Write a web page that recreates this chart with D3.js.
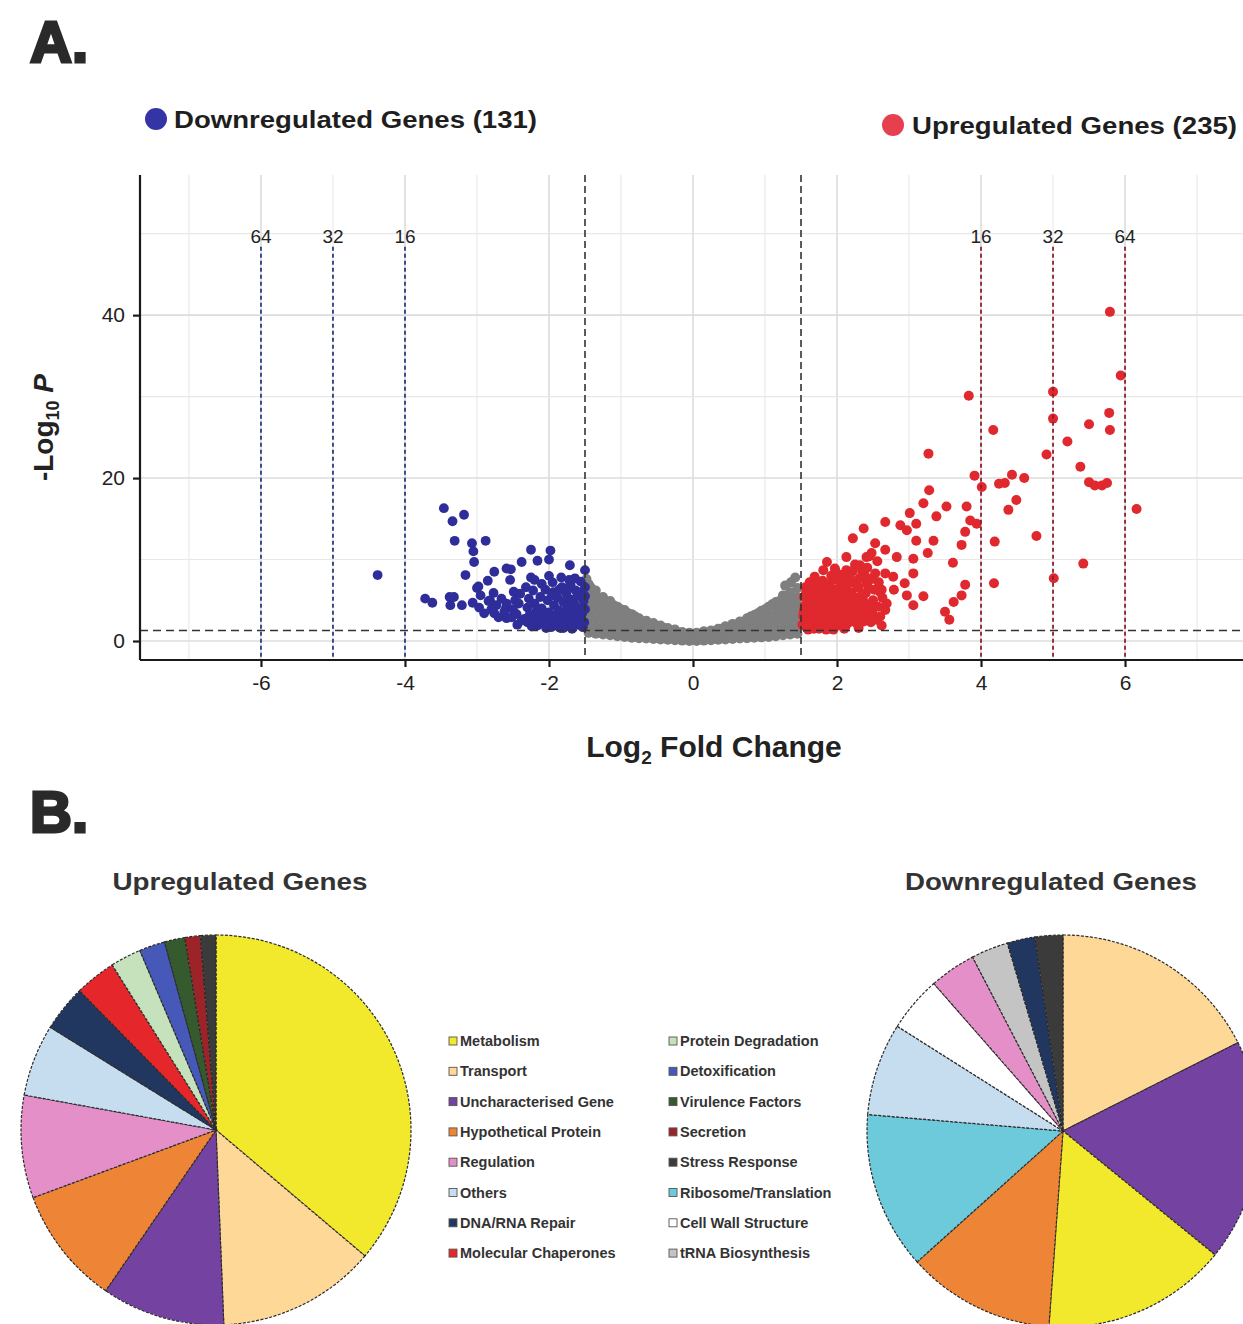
<!DOCTYPE html>
<html>
<head>
<meta charset="utf-8">
<script src="https://cdn.jsdelivr.net/npm/d3@7"></script>
<style>
  body { margin: 0; background: #fff; }
  svg { display: block; }
</style>
</head>
<body>
<svg id="fig" width="1243" height="1324"></svg>
<script>
// ---------------- data ----------------
const xTicks = [-6, -4, -2, 0, 2, 4, 6];
const yTicks = [0, 20, 40];
const gridX = [-7, -6, -5, -4, -3, -2, -1, 0, 1, 2, 3, 4, 5, 6, 7];
const gridY = [0, 10, 20, 30, 40, 50];
const foldCutoffs = [-6, -5, -4, 4, 5, 6];
const foldCutoffLabels = ["64", "32", "16", "16", "32", "64"];
const lfcThreshold = 1.5;
const pThreshold = 1.3;
const downCount = 131;
const upCount = 235;

// significant, down-regulated genes [log2FC, -log10 P]
const downPoints = [
  [-4.38, 8.1], [-3.46, 16.3], [-3.34, 14.7], [-3.18, 15.5], [-3.31, 12.3], [-3.07, 12.0],
  [-2.88, 12.3], [-3.05, 11.0], [-3.04, 9.7], [-3.16, 8.1], [-3.0, 6.5], [-3.72, 5.2],
  [-3.62, 4.7], [-3.37, 4.4], [-3.32, 5.4], [-3.21, 4.4], [-3.06, 4.7], [-2.85, 7.4],
  [-2.76, 8.5], [-2.77, 5.9], [-2.73, 4.4], [-2.76, 3.4], [-2.6, 4.0], [-2.59, 2.8],
  [-2.53, 8.8], [-2.54, 7.5], [-2.49, 6.05], [-2.47, 5.0], [-2.38, 9.7], [-2.25, 11.2],
  [-2.16, 9.85], [-2.25, 7.8], [-2.2, 7.5], [-2.34, 2.7], [-1.98, 11.1], [-2.0, 10.0],
  [-2.0, 8.0], [-1.83, 7.8], [-1.71, 9.3], [-1.5, 8.7], [-1.72, 7.5], [-2.98, 6.7],
  [-2.82, 5.0], [-2.59, 4.6], [-2.59, 8.9], [-3.38, 5.4],
  [-2.32, 6.6], [-2.28, 5.2], [-2.3, 4.1], [-2.27, 3.2], [-2.3, 2.3], [-2.22, 6.2],
  [-2.2, 4.6], [-2.18, 3.6], [-2.2, 2.8], [-2.16, 1.9], [-2.12, 5.4], [-2.1, 7.0],
  [-2.1, 4.0], [-2.08, 3.0], [-2.06, 2.2], [-2.05, 6.3], [-2.02, 5.0], [-2.0, 3.5],
  [-1.98, 2.6], [-1.97, 1.7], [-1.95, 7.2], [-1.94, 6.0], [-1.93, 4.4], [-1.92, 3.1],
  [-1.9, 2.2], [-1.88, 5.3], [-1.87, 3.8], [-1.85, 2.7], [-1.84, 1.6], [-1.82, 6.6],
  [-1.8, 4.8], [-1.79, 3.3], [-1.78, 2.3], [-1.76, 5.8], [-1.75, 4.2], [-1.74, 2.9],
  [-1.72, 1.8], [-1.7, 6.9], [-1.69, 5.1], [-1.68, 3.6], [-1.66, 2.5], [-1.65, 4.6],
  [-1.63, 6.2], [-1.62, 3.1], [-1.61, 2.0], [-1.6, 5.5], [-1.58, 4.0], [-1.57, 2.7],
  [-1.56, 7.3], [-1.55, 6.0], [-1.54, 3.4], [-1.53, 1.7], [-1.52, 4.9], [-1.51, 2.3],
  [-1.5, 6.6], [-1.5, 3.9], [-1.5, 5.5], [-2.45, 3.3], [-2.42, 4.6], [-2.4, 5.8],
  [-2.38, 2.5], [-2.62, 3.6], [-2.66, 5.2], [-2.7, 2.9], [-2.8, 3.9], [-2.84, 4.9],
  [-2.9, 3.4], [-2.95, 5.6], [-2.97, 4.1], [-2.52, 2.9], [-2.5, 3.9], [-2.44, 2.0],
  [-1.96, 5.6], [-1.86, 6.3], [-1.74, 6.5], [-1.64, 7.7], [-1.58, 2.0], [-2.14, 2.5],
  [-2.24, 1.8], [-1.9, 1.9], [-1.68, 1.5], [-1.8, 1.6], [-2.04, 1.6]
];

// significant, up-regulated genes [log2FC, -log10 P]
const upPoints = [
  [5.79, 40.4], [5.94, 32.6], [5.0, 30.6], [3.83, 30.1], [5.0, 27.3], [5.78, 28.0],
  [5.79, 25.9], [5.5, 26.6], [5.2, 24.5], [4.17, 25.9], [3.27, 23.0], [4.91, 22.9],
  [5.38, 21.4], [5.5, 19.5], [5.58, 19.1], [5.68, 19.1], [5.75, 19.4], [3.91, 20.3],
  [4.01, 18.9], [4.25, 19.3], [4.33, 19.4], [4.43, 20.4], [4.6, 20.0], [4.49, 17.3],
  [4.38, 16.1], [6.16, 16.2], [3.28, 18.5], [3.2, 16.9], [3.52, 16.5], [3.8, 16.5],
  [3.85, 14.8], [3.94, 14.4], [3.78, 13.4], [3.73, 11.8], [4.77, 12.9], [4.19, 12.2],
  [3.34, 12.3], [3.26, 10.8], [3.61, 9.6], [5.42, 9.5], [5.01, 7.7], [4.18, 7.1],
  [3.78, 6.9], [3.73, 5.6], [3.62, 4.8], [3.5, 3.6], [3.56, 2.6], [3.2, 5.5],
  [3.06, 4.4], [2.97, 5.6], [2.94, 7.1], [3.06, 8.3], [3.06, 10.1], [3.1, 12.3],
  [3.01, 15.7], [3.1, 14.4], [2.88, 14.2], [2.97, 13.6], [2.67, 14.6], [2.37, 13.8],
  [2.22, 12.6], [2.53, 12.0], [2.67, 11.2], [2.83, 10.3], [2.13, 10.3], [2.67, 8.3],
  [2.78, 7.9], [2.62, 6.3], [2.69, 4.6], [3.38, 15.3], [2.79, 6.3], [2.67, 3.8],
  [2.48, 10.8], [2.41, 10.3], [2.32, 9.3], [2.13, 8.7], [1.86, 9.7], [1.69, 7.9],
  [1.97, 8.9], [1.81, 8.7],
  [1.52, 2.0], [1.53, 3.1], [1.55, 4.3], [1.54, 5.4], [1.56, 6.6], [1.58, 1.6],
  [1.58, 2.6], [1.6, 3.7], [1.6, 4.9], [1.62, 7.2], [1.63, 2.1], [1.64, 3.0],
  [1.65, 4.1], [1.66, 5.6], [1.67, 6.3], [1.68, 1.5], [1.69, 2.6], [1.7, 3.6],
  [1.71, 4.7], [1.72, 5.9], [1.7, 7.0], [1.74, 2.2], [1.75, 3.2], [1.76, 4.3],
  [1.77, 5.2], [1.78, 6.6], [1.79, 1.8], [1.8, 2.8], [1.81, 3.9], [1.82, 5.0],
  [1.8, 7.4], [1.83, 6.1], [1.85, 2.3], [1.86, 3.4], [1.87, 4.5], [1.88, 5.6],
  [1.89, 7.0], [1.9, 1.7], [1.91, 2.9], [1.92, 4.0], [1.93, 5.2], [1.92, 8.0],
  [1.94, 6.4], [1.96, 2.4], [1.97, 3.5], [1.98, 4.7], [1.99, 5.8], [2.0, 7.5],
  [2.01, 1.9], [2.02, 3.0], [2.03, 4.2], [2.04, 6.6], [2.05, 5.2], [2.06, 8.1],
  [2.07, 2.5], [2.08, 3.7], [2.09, 4.9], [2.1, 6.1], [2.11, 7.3], [2.12, 1.8],
  [2.13, 3.2], [2.14, 4.4], [2.15, 5.6], [2.15, 8.3], [2.17, 2.3], [2.18, 3.5],
  [2.19, 4.7], [2.2, 6.0], [2.21, 7.2], [2.22, 8.6], [2.23, 2.9], [2.24, 4.1],
  [2.25, 5.3], [2.25, 9.4], [2.27, 2.2], [2.28, 3.4], [2.29, 4.6], [2.3, 6.5],
  [2.31, 7.7], [2.32, 5.4], [2.33, 2.8], [2.34, 3.9], [2.35, 8.6], [2.37, 2.4],
  [2.38, 3.3], [2.39, 4.5], [2.4, 5.9], [2.41, 7.1], [2.42, 9.0], [2.43, 2.9],
  [2.44, 6.5], [2.45, 4.0], [2.47, 2.3], [2.49, 3.4], [2.5, 5.0], [2.52, 6.3],
  [2.53, 8.3], [2.55, 2.6], [2.57, 4.2], [2.58, 7.2], [2.6, 3.0], [2.63, 5.3],
  [2.62, 1.9], [2.56, 9.8], [2.45, 10.4], [1.6, 1.4], [1.75, 1.5], [1.95, 1.4],
  [2.1, 1.5], [2.3, 1.6], [1.85, 1.4], [1.57, 5.9], [1.61, 2.3], [1.66, 3.4],
  [1.73, 4.5], [1.78, 2.5], [1.84, 3.7], [1.88, 4.9], [1.93, 2.0], [1.98, 6.2],
  [2.02, 3.6], [2.06, 5.8], [2.11, 2.7], [2.16, 4.0], [2.2, 5.5], [2.26, 3.1],
  [2.31, 4.3], [2.36, 5.1], [2.41, 2.6], [2.46, 3.8], [1.54, 3.7], [1.69, 4.2],
  [1.81, 5.5], [1.96, 4.1], [2.12, 6.6], [2.28, 6.8], [2.48, 7.6], [2.6, 6.0],
  [2.18, 7.8], [1.72, 6.8], [1.98, 8.6], [2.52, 4.4], [2.39, 8.0]
];

// genes that fail the fold-change cut-off [log2FC, -log10 P]
const nsPoints = [
  [-1.48, 7.6], [-1.42, 6.6],
  [-1.45, 1.0], [-1.45, 1.9], [-1.45, 2.8], [-1.45, 3.7], [-1.45, 4.6], [-1.45, 5.5], [-1.45, 6.3], [-1.45, 7.0],
  [-1.4, 1.4], [-1.4, 3.2], [-1.4, 5.0],
  [-1.35, 0.9], [-1.35, 1.8], [-1.35, 2.7], [-1.35, 3.6], [-1.35, 4.5], [-1.35, 5.4], [-1.35, 6.2],
  [-1.3, 1.3], [-1.3, 3.1], [-1.3, 4.9],
  [-1.25, 0.8], [-1.25, 1.7], [-1.25, 2.6], [-1.25, 3.5], [-1.25, 4.4], [-1.25, 5.4],
  [-1.2, 1.2], [-1.2, 3.0], [-1.2, 4.7],
  [-1.15, 0.7], [-1.15, 1.6], [-1.15, 2.5], [-1.15, 3.4], [-1.15, 4.2], [-1.15, 4.9],
  [-1.1, 1.1], [-1.1, 2.9], [-1.1, 4.4],
  [-1.05, 0.6], [-1.05, 1.5], [-1.05, 2.4], [-1.05, 3.3], [-1.05, 4.2],
  [-1.0, 1.0], [-1.0, 2.8], [-1.0, 3.9],
  [-0.95, 0.5], [-0.95, 1.4], [-0.95, 2.3], [-0.95, 3.1], [-0.95, 3.8],
  [-0.9, 0.9], [-0.9, 2.5], [-0.9, 3.4],
  [-0.85, 0.4], [-0.85, 1.2], [-0.85, 2.0], [-0.85, 2.7], [-0.85, 3.3],
  [-0.8, 0.8], [-0.8, 2.3], [-0.8, 3.0],
  [-0.75, 0.35], [-0.75, 1.1], [-0.75, 1.9], [-0.75, 2.8],
  [-0.7, 0.7], [-0.7, 2.2],
  [-0.65, 0.3], [-0.65, 1.0], [-0.65, 1.7], [-0.65, 2.5],
  [-0.6, 0.6], [-0.6, 2.0],
  [-0.55, 0.25], [-0.55, 0.9], [-0.55, 1.6], [-0.55, 2.2],
  [-0.5, 0.5], [-0.5, 1.8],
  [-0.45, 0.2], [-0.45, 0.8], [-0.45, 1.4], [-0.45, 1.9],
  [-0.4, 0.45], [-0.4, 1.6],
  [-0.35, 0.15], [-0.35, 0.7], [-0.35, 1.3], [-0.35, 1.6],
  [-0.3, 0.4], [-0.3, 1.1],
  [-0.25, 0.1], [-0.25, 0.6], [-0.25, 1.1], [-0.25, 1.4],
  [-0.2, 0.3], [-0.2, 0.9],
  [-0.15, 0.05], [-0.15, 0.6], [-0.15, 1.1],
  [-0.1, 0.3], [-0.1, 0.9],
  [-0.05, 0.0], [-0.05, 0.5], [-0.05, 1.0],
  [0.0, 0.2], [0.0, 0.8],
  [0.05, 0.0], [0.05, 0.5], [0.05, 1.0],
  [0.1, 0.3], [0.1, 0.9],
  [0.15, 0.05], [0.15, 0.6], [0.15, 1.2],
  [0.2, 0.3], [0.2, 0.9],
  [0.25, 0.1], [0.25, 0.6], [0.25, 1.3],
  [0.3, 0.4], [0.3, 1.0],
  [0.35, 0.15], [0.35, 0.7], [0.35, 1.2], [0.35, 1.5],
  [0.4, 0.45], [0.4, 1.5],
  [0.45, 0.2], [0.45, 0.8], [0.45, 1.3], [0.45, 1.8],
  [0.5, 0.5], [0.5, 1.6],
  [0.55, 0.25], [0.55, 0.9], [0.55, 1.5], [0.55, 2.1],
  [0.6, 0.6], [0.6, 1.9],
  [0.65, 0.3], [0.65, 1.0], [0.65, 1.7], [0.65, 2.4],
  [0.7, 0.7], [0.7, 2.2],
  [0.75, 0.35], [0.75, 1.1], [0.75, 1.9], [0.75, 2.8],
  [0.8, 0.8], [0.8, 2.4], [0.8, 3.0],
  [0.85, 0.4], [0.85, 1.2], [0.85, 2.0], [0.85, 2.7], [0.85, 3.2],
  [0.9, 0.9], [0.9, 2.5], [0.9, 3.4],
  [0.95, 0.45], [0.95, 1.3], [0.95, 2.2], [0.95, 3.0], [0.95, 3.7],
  [1.0, 1.0], [1.0, 2.7], [1.0, 3.9],
  [1.05, 0.5], [1.05, 1.4], [1.05, 2.3], [1.05, 3.2], [1.05, 4.2],
  [1.1, 1.1], [1.1, 2.9], [1.1, 4.5],
  [1.15, 0.6], [1.15, 1.5], [1.15, 2.4], [1.15, 3.3], [1.15, 4.1], [1.15, 4.8],
  [1.2, 1.2], [1.2, 3.0], [1.2, 4.9],
  [1.25, 0.7], [1.25, 1.6], [1.25, 2.5], [1.25, 3.4], [1.25, 4.3], [1.25, 5.0], [1.25, 5.6],
  [1.28, 6.8],
  [1.3, 1.3], [1.3, 3.1], [1.3, 5.2],
  [1.35, 0.8], [1.35, 1.7], [1.35, 2.6], [1.35, 3.5], [1.35, 4.4], [1.35, 5.3], [1.35, 6.0],
  [1.36, 7.2],
  [1.4, 1.4], [1.4, 3.2], [1.4, 5.0],
  [1.42, 7.8],
  [1.45, 0.9], [1.45, 1.8], [1.45, 2.7], [1.45, 3.6], [1.45, 4.5], [1.45, 5.4], [1.45, 6.5]
];

// functional categories (legend order) and their fills
const categories = [
  "Metabolism", "Transport", "Uncharacterised Gene", "Hypothetical Protein",
  "Regulation", "Others", "DNA/RNA Repair", "Molecular Chaperones",
  "Protein Degradation", "Detoxification", "Virulence Factors", "Secretion",
  "Stress Response", "Ribosome/Translation", "Cell Wall Structure", "tRNA Biosynthesis"
];
const categoryColors = [
  "#f2e92c", "#fdd896", "#7442a0", "#ee8435",
  "#e48fc8", "#c6dcef", "#22375f", "#e5262b",
  "#c6e2bc", "#4658b8", "#355a2e", "#9c2428",
  "#3b3b3b", "#6ccadb", "#ffffff", "#c4c4c4"
];

// gene counts per category, in slice order
const upCategories = [
  "Metabolism", "Transport", "Uncharacterised Gene", "Hypothetical Protein",
  "Regulation", "Others", "DNA/RNA Repair", "Molecular Chaperones",
  "Protein Degradation", "Detoxification", "Virulence Factors", "Secretion",
  "Stress Response"
];
const upCounts = [85, 31, 24, 23, 20, 14, 9, 8, 6, 5, 4, 3, 3];

const downCategories = [
  "Transport", "Uncharacterised Gene", "Metabolism", "Hypothetical Protein",
  "Ribosome/Translation", "Others", "Cell Wall Structure", "Regulation",
  "tRNA Biosynthesis", "DNA/RNA Repair", "Stress Response"
];
const downCounts = [23, 24, 20, 16, 17, 10, 6, 5, 4, 3, 3];

// ---------------- drawing ----------------
const FONT = "'Liberation Sans', Arial, Helvetica, sans-serif";
const svg = d3.select("#fig").style("font-family", FONT);
svg.append("rect").attr("width", 1243).attr("height", 1324).attr("fill", "#ffffff");

const colorOf = d3.scaleOrdinal().domain(categories).range(categoryColors);

// panel letters
function panelLetter(text, x, yBase) {
  svg.append("text").attr("x", x).attr("y", yBase)
    .attr("font-size", 58).attr("font-weight", 900)
    .attr("fill", "#2a2a2a").attr("stroke", "#2a2a2a").attr("stroke-width", 3)
    .text(text);
}
panelLetter("A.", 30, 62);
panelLetter("B.", 30, 832);

// ----- volcano plot -----
const x = d3.scaleLinear().domain([-7.68, 7.68]).range([140, 1246]);
const y = d3.scaleLinear().domain([-2.33, 57.2]).range([660, 175]);
const [plotL, plotR] = x.range();
const [plotB, plotT] = y.range();

const defs = svg.append("defs");
defs.append("clipPath").attr("id", "plotClip")
  .append("rect").attr("x", plotL).attr("y", plotT)
  .attr("width", plotR - plotL).attr("height", plotB - plotT);

const plot = svg.append("g").attr("clip-path", "url(#plotClip)");

// grid
plot.append("g").selectAll("line").data(gridX).join("line")
  .attr("x1", d => x(d)).attr("x2", d => x(d))
  .attr("y1", plotT).attr("y2", plotB)
  .attr("stroke", d => d % 2 === 0 ? "#dcdcdc" : "#e8e8e8")
  .attr("stroke-width", d => d % 2 === 0 ? 1.6 : 1.1);
plot.append("g").selectAll("line").data(gridY).join("line")
  .attr("x1", plotL).attr("x2", plotR)
  .attr("y1", d => y(d)).attr("y2", d => y(d))
  .attr("stroke", d => d % 20 === 0 ? "#dcdcdc" : "#e8e8e8")
  .attr("stroke-width", d => d % 20 === 0 ? 1.6 : 1.1);

// points
function dots(data, fill, r) {
  plot.append("g").selectAll("circle").data(data).join("circle")
    .attr("cx", d => x(d[0])).attr("cy", d => y(d[1]))
    .attr("r", r).attr("fill", fill);
}
dots(nsPoints, "#7f7f7f", 5);
dots(downPoints, "#2f2d9a", 4.9);
dots(upPoints, "#e0282f", 5);

// fold-change cut-off lines (16, 32, 64 fold)
const cutTop = 48.4;
plot.append("g").selectAll("line").data(foldCutoffs).join("line")
  .attr("x1", d => x(d)).attr("x2", d => x(d))
  .attr("y1", y(cutTop)).attr("y2", plotB)
  .attr("stroke", d => d < 0 ? "#2b3d7e" : "#8e1f2f")
  .attr("stroke-width", 1.8)
  .attr("stroke-dasharray", "4,3");
svg.append("g").selectAll("text").data(foldCutoffs).join("text")
  .attr("x", d => x(d)).attr("y", y(48.9))
  .attr("text-anchor", "middle").attr("font-size", 19).attr("fill", "#222")
  .text((d, i) => foldCutoffLabels[i]);

// significance thresholds
plot.append("g").selectAll("line").data([-lfcThreshold, lfcThreshold]).join("line")
  .attr("x1", d => x(d)).attr("x2", d => x(d))
  .attr("y1", plotT).attr("y2", plotB)
  .attr("stroke", "#333").attr("stroke-width", 1.6).attr("stroke-dasharray", "7,4");
plot.append("line")
  .attr("x1", plotL).attr("x2", plotR).attr("y1", y(pThreshold)).attr("y2", y(pThreshold))
  .attr("stroke", "#333").attr("stroke-width", 1.6).attr("stroke-dasharray", "8,5");

// axes
const xAxis = svg.append("g").attr("transform", `translate(0,${plotB})`)
  .call(d3.axisBottom(x).tickValues(xTicks).tickSize(7).tickPadding(8).tickFormat(d => String(d)));
const yAxis = svg.append("g").attr("transform", `translate(${plotL},0)`)
  .call(d3.axisLeft(y).tickValues(yTicks).tickSize(7).tickPadding(8).tickFormat(d => String(d)));
[xAxis, yAxis].forEach(g => {
  g.select(".domain").attr("stroke", "#1a1a1a").attr("stroke-width", 2.2);
  g.selectAll(".tick line").attr("stroke", "#1a1a1a").attr("stroke-width", 2.2);
  g.selectAll(".tick text").attr("font-size", 21).attr("fill", "#222").attr("font-family", FONT);
});
// remove the path end caps that d3 adds beyond the range
xAxis.select(".domain").attr("d", `M${plotL},0H${plotR}`);
yAxis.select(".domain").attr("d", `M0,${plotT}V${plotB}`);

// axis titles
const yTitle = svg.append("text")
  .attr("transform", `translate(53,${(plotT + plotB) / 2 + 10}) rotate(-90)`)
  .attr("text-anchor", "middle").attr("font-size", 28).attr("font-weight", "bold").attr("fill", "#222");
yTitle.append("tspan").text("-Log");
yTitle.append("tspan").attr("font-size", 18).attr("dy", 6).text("10");
yTitle.append("tspan").attr("dy", -6).text(" ");
yTitle.append("tspan").attr("font-style", "italic").text("P");

const xTitle = svg.append("text")
  .attr("x", 714).attr("y", 757)
  .attr("text-anchor", "middle").attr("font-size", 30).attr("font-weight", "bold").attr("fill", "#222");
xTitle.append("tspan").text("Log");
xTitle.append("tspan").attr("font-size", 19).attr("dy", 7).text("2");
xTitle.append("tspan").attr("dy", -7).text(" Fold Change");

// top legend
const topLegend = [
  { label: `Downregulated Genes (${downCount})`, color: "#3434a6", cx: 156, cy: 119, tx: 174, ty: 128, w: 363 },
  { label: `Upregulated Genes (${upCount})`, color: "#e6404e", cx: 893, cy: 125, tx: 912, ty: 134, w: 325 }
];
topLegend.forEach(d => {
  svg.append("circle").attr("cx", d.cx).attr("cy", d.cy).attr("r", 11).attr("fill", d.color);
  svg.append("text").attr("x", d.tx).attr("y", d.ty)
    .attr("font-size", 23).attr("font-weight", "bold").attr("fill", "#1e1e1e")
    .attr("textLength", d.w).attr("lengthAdjust", "spacingAndGlyphs")
    .text(d.label);
});

// ----- pie charts -----
const pie = d3.pie().sort(null).value(d => d.n);
function drawPie(names, counts, cx, cy, r, title, titleX, titleW) {
  const data = names.map((k, i) => ({ k, n: counts[i] }));
  const arc = d3.arc().innerRadius(0).outerRadius(r);
  const g = svg.append("g").attr("transform", `translate(${cx},${cy})`);
  g.selectAll("path").data(pie(data)).join("path")
    .attr("d", arc)
    .attr("fill", d => colorOf(d.data.k))
    .attr("stroke", "#2b2b2b").attr("stroke-width", 1.2)
    .attr("stroke-dasharray", "3,1.5");
  svg.append("text").attr("x", titleX).attr("y", 890)
    .attr("text-anchor", "middle").attr("font-size", 24).attr("font-weight", "bold")
    .attr("fill", "#333").attr("textLength", titleW).attr("lengthAdjust", "spacingAndGlyphs")
    .text(title);
}
drawPie(upCategories, upCounts, 216, 1130, 195, "Upregulated Genes", 240, 255);
drawPie(downCategories, downCounts, 1063, 1131, 196, "Downregulated Genes", 1051, 292);

// category legend, two columns of eight
const legend = svg.append("g");
const legendRows = categories.map((k, i) => ({
  k, col: Math.floor(i / 8), row: i % 8
}));
const colX = [449, 669];
const rowY0 = 1041, rowStep = 30.3;
const item = legend.selectAll("g").data(legendRows).join("g")
  .attr("transform", d => `translate(${colX[d.col]},${rowY0 + d.row * rowStep})`);
item.append("rect").attr("x", 0).attr("y", -4).attr("width", 8).attr("height", 8)
  .attr("fill", d => colorOf(d.k)).attr("stroke", "#555").attr("stroke-width", 0.9);
item.append("text").attr("x", 11).attr("y", 5)
  .attr("font-size", 14.5).attr("font-weight", "bold").attr("fill", "#333")
  .text(d => d.k);
</script>
</body>
</html>
